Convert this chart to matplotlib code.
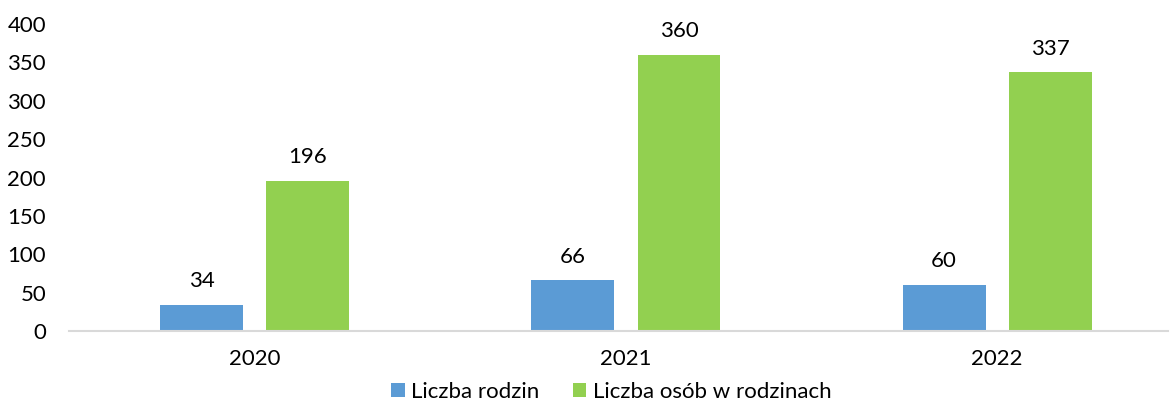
import matplotlib
matplotlib.use("Agg")
import matplotlib.pyplot as plt
import numpy as np

years = ["2020", "2021", "2022"]
rodziny = [34, 66, 60]
osoby = [196, 360, 337]
series_names = ["Liczba rodzin", "Liczba osób w rodzinach"]
yticks = [0, 50, 100, 150, 200, 250, 300, 350, 400]

plt.rcParams['font.family'] = ['Lato', 'DejaVu Sans']
FS = 16

fig = plt.figure(figsize=(11.7, 4.03), dpi=100)
ax = fig.add_axes([69/1170, 1-331/403, (1168-69)/1170, (331-24)/403])

x = np.arange(len(years))
w = 0.223
off = 0.143
b1 = ax.bar(x - off, rodziny, w, color="#5B9BD5", label=series_names[0], zorder=2)
b2 = ax.bar(x + off, osoby, w, color="#92D050", label=series_names[1], zorder=2)

for bars in (b1, b2):
    for r in bars:
        ax.annotate(f"{int(r.get_height())}", (r.get_x() + r.get_width()/2, r.get_height()),
                    xytext=(0, 17), textcoords="offset points", ha="center", va="center",
                    fontsize=FS, color="#000000")

ax.set_xlim(-0.5, 2.46)
ax.set_ylim(0, 400)
ax.set_yticks(yticks)
ax.set_xticks(x)
ax.set_xticklabels(years)
ax.tick_params(axis="both", length=0, labelsize=FS, colors="#000000")
ax.tick_params(axis="y", pad=16.5)
ax.tick_params(axis="x", pad=13)
for s in ["top", "right", "left"]:
    ax.spines[s].set_visible(False)
ax.spines["bottom"].set_color("#d9d9d9")
ax.spines["bottom"].set_linewidth(1.5)

leg = fig.legend(handles=[b1, b2], labels=series_names, loc="center", bbox_to_anchor=(0.5226, 1-392/403),
                 ncol=2, frameon=False, fontsize=FS, handlelength=0.6, handleheight=0.6,
                 handletextpad=0.3, columnspacing=1.5, borderaxespad=0, borderpad=0)

fig.savefig("out.png", dpi=100)
